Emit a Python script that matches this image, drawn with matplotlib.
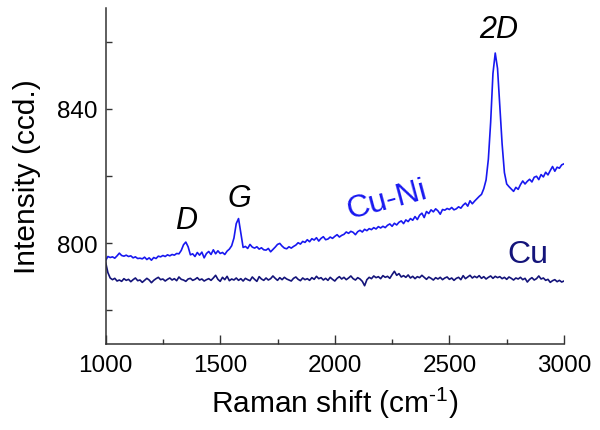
import numpy as np
import matplotlib
matplotlib.use('Agg')
import matplotlib.pyplot as plt
from matplotlib.ticker import MultipleLocator, FixedLocator

plt.rcParams['font.family'] = ['Liberation Sans', 'DejaVu Sans']
plt.rcParams['mathtext.fontset'] = 'custom'
plt.rcParams['mathtext.rm'] = 'Liberation Sans'
plt.rcParams['mathtext.it'] = 'Liberation Sans:italic'

# Raman shift grid (cm-1), one reading every 10 cm-1
shift = np.arange(1000, 3001, 10)

# Cu-Ni spectrum
cu_ni = [
    794.8, 796.0, 795.7, 795.9, 795.5, 796.2, 797.0, 796.3, 796.1, 796.4,
    796.0, 796.2, 795.6, 795.9, 795.4, 795.5, 795.3, 795.8, 795.1, 795.6,
    794.9, 795.7, 795.4, 796.1, 795.9, 796.3, 796.0, 796.5, 796.2, 796.6,
    796.4, 796.9, 796.8, 797.8, 799.5, 800.3, 798.9, 796.5, 796.8, 796.0,
    797.2, 796.4, 797.3, 795.6, 796.9, 797.5, 796.6, 798.0, 796.8, 797.7,
    796.9, 797.2, 796.6, 797.6, 798.2, 799.2, 801.5, 805.8, 807.3, 803.0,
    798.7, 799.0, 798.4, 799.6, 798.8, 798.5, 798.9, 798.2, 798.6, 798.0,
    797.9, 798.4, 797.4, 798.1, 798.8, 799.6, 799.9, 799.1, 798.5, 798.3,
    798.9, 798.5, 799.0, 799.4, 800.1, 799.7, 800.5, 800.2, 801.0, 800.4,
    801.3, 800.9, 801.6, 800.6, 801.4, 801.9, 801.0, 801.2, 801.8, 801.4,
    802.0, 802.5, 801.8, 802.3, 802.6, 803.3, 802.9, 803.5, 803.2, 802.5,
    803.4, 803.8, 803.3, 804.1, 803.7, 804.3, 804.0, 804.6, 804.2, 804.9,
    804.5, 805.0, 804.6, 805.3, 805.7, 805.0, 805.9, 805.4, 806.2, 806.6,
    805.8, 806.9, 806.4, 807.3, 806.8, 807.9, 807.0, 808.3, 808.9, 807.6,
    809.4, 808.8, 809.9, 809.3, 810.2, 809.6, 808.6, 810.0, 809.8, 810.3,
    810.0, 810.6, 809.9, 810.2, 810.8, 810.4, 811.3, 811.9, 811.0, 812.6,
    811.7, 812.5, 813.2, 813.9, 814.5, 816.2, 818.8, 825.0, 836.0, 850.5,
    856.6, 852.0, 841.0, 829.5, 821.0, 817.6, 816.8, 816.1, 815.4, 816.6,
    816.0, 817.4, 818.5, 817.6, 818.4, 819.0, 818.2, 819.6, 819.9, 818.9,
    820.4, 819.7, 821.1, 820.3, 821.6, 822.8, 821.4, 822.6, 822.3, 823.3,
    823.6,
]

# Cu spectrum
cu = [
    794.3, 791.2, 789.6, 789.1, 789.5, 788.7, 789.0, 788.6, 789.4, 788.9,
    789.2, 788.5, 789.1, 789.6, 788.8, 789.0, 788.3, 788.9, 789.5, 789.0,
    788.2, 788.9, 789.4, 789.8, 789.1, 789.3, 788.7, 789.2, 789.6, 789.0,
    789.4, 788.8, 789.9, 789.2, 789.0, 788.6, 789.3, 789.5, 788.9, 789.2,
    789.7, 789.0, 789.3, 788.7, 789.1, 789.4, 788.9, 789.6, 790.4, 789.2,
    788.6, 789.8, 789.1, 790.1, 788.8, 789.3, 789.0, 789.6, 788.9, 789.4,
    788.7, 789.5, 789.1, 788.8, 789.9, 789.2, 788.6, 790.0, 789.3, 788.9,
    789.6, 789.0, 789.4, 790.2, 789.5, 788.9, 789.7, 789.1, 789.8, 789.3,
    789.0, 788.7, 789.5, 789.9, 789.2, 788.8, 789.6, 789.1, 789.4, 788.9,
    789.7, 789.2, 790.1, 789.4, 789.7, 789.0, 789.5, 788.9, 789.8, 789.2,
    788.7, 789.5, 790.0, 789.3, 789.8, 789.1, 789.6, 790.2, 789.4, 789.0,
    789.7, 789.3, 788.6, 787.3, 789.1, 789.8, 789.4, 790.2, 789.7, 790.0,
    789.4, 790.3, 789.8, 790.1, 789.5, 790.6, 791.6, 790.4, 790.9, 789.9,
    790.3, 789.8, 790.5, 789.6, 790.1, 789.4, 790.0, 789.7, 790.4, 789.8,
    789.2, 789.9, 789.5, 789.0, 789.7, 789.3, 789.8, 789.1, 789.6, 789.9,
    789.2, 789.6, 788.9, 789.5, 789.8, 789.1, 790.3, 789.4, 789.9, 790.4,
    789.6, 790.1, 789.7, 790.3, 789.5, 790.0, 789.3, 789.8, 790.2, 789.5,
    790.1, 789.7, 790.0, 789.4, 789.8, 789.2, 789.9, 789.5, 789.0, 789.6,
    789.3, 789.8, 789.1, 789.5, 788.4, 789.2, 789.7, 789.0, 789.4, 790.2,
    789.3, 789.6, 788.9, 789.2, 788.3, 788.8, 789.1, 788.5, 788.9, 788.4,
    788.7,
]

blue = '#1818f0'
navy = '#14147a'

fig = plt.figure(figsize=(6, 4.31), dpi=100)
ax = fig.add_axes([0.176, 0.2, 0.764, 0.779])

ax.plot(shift, cu_ni, color=blue, lw=1.2)
ax.plot(shift, cu, color=navy, lw=1.2)

ax.set_xlim(1000, 3000)
ax.set_ylim(770, 870)

ax.xaxis.set_major_locator(MultipleLocator(500))
ax.xaxis.set_minor_locator(MultipleLocator(250))
ax.yaxis.set_major_locator(FixedLocator([800, 840]))
ax.yaxis.set_minor_locator(FixedLocator([780, 820, 860]))

ax.tick_params(axis='both', which='both', direction='in', color='#333333',
               width=1.0, labelsize=17.5)
ax.tick_params(axis='x', which='major', length=6.5, pad=7)
ax.tick_params(axis='x', which='minor', length=3.5)
ax.tick_params(axis='y', which='both', length=4.5, pad=6)

for side in ['top', 'right']:
    ax.spines[side].set_visible(False)
for side in ['left', 'bottom']:
    ax.spines[side].set_color('#333333')
    ax.spines[side].set_linewidth(1.1)

ax.set_xlabel(r'Raman shift (cm$^{\text{-1}}$)', fontsize=21.5, labelpad=7)
ax.set_ylabel('Intensity (ccd.)', fontsize=21.5)
ax.yaxis.set_label_coords(-0.14, 0.5)

ax.text(2713, 863.9, '2D', fontsize=22, style='italic', ha='center', va='center')
ax.text(1351, 806.8, 'D', fontsize=22, style='italic', ha='center', va='center')
ax.text(1584, 813.3, 'G', fontsize=22, style='italic', ha='center', va='center')
ax.text(2225, 812.8, 'Cu-Ni', fontsize=23, color=blue, rotation=15,
        ha='center', va='center')
ax.text(2843, 796.6, 'Cu', fontsize=23, color=navy, ha='center', va='center')

fig.savefig('out.png', dpi=100)
